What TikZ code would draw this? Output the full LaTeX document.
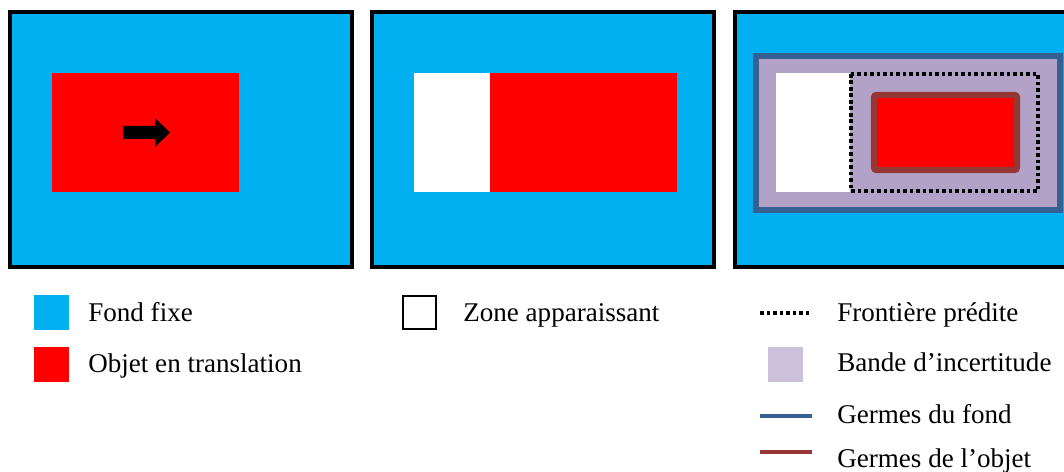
\documentclass[tikz,border=0pt]{standalone}
\usepackage{fontspec}
\setmainfont{Liberation Serif}
\usetikzlibrary{positioning}
\definecolor{fond}{HTML}{00B0F0}
\definecolor{objet}{HTML}{FF0000}
\definecolor{bande}{HTML}{B3A2C7}
\definecolor{bandeleg}{HTML}{CCC1DA}
\definecolor{germfond}{HTML}{376092}
\definecolor{germobj}{HTML}{953735}
\tikzset{
  cadre/.style={draw=black, line width=2pt, fill=fond},
  swatch/.style={minimum size=0.7cm, inner sep=0pt, outer sep=0pt},
  lgd/.style={font=\fontsize{15.4}{18}\selectfont, anchor=base west, inner sep=0pt},
  frontiere/.style={draw=black, line width=2pt, dash pattern=on 2pt off 1.7pt},
  gfond/.style={draw=germfond, line width=3.4pt},
  gobj/.style={draw=germobj, line width=3.6pt, rounded corners=1.5pt},
}

\begin{document}
\begin{tikzpicture}[x=0.02cm, y=-0.02cm]
\useasboundingbox (0,0) rectangle (1064,472);

% panel 1: object moving right
\draw[cadre] (10,12) rectangle (352,267);
\fill[objet] (52,73) rectangle (239,192);
\fill[black] (123,126) -- (155,126) -- (155,118) -- (170,132.5) -- (155,147) -- (155,139) -- (123,139) -- cycle;

% panel 2: appearing zone
\draw[cadre] (372,12) rectangle (714,267);
\fill[white] (414,73) rectangle (490,192);
\fill[objet] (490,73) rectangle (677,192);

% panel 3: predicted frontier and seeds
\draw[cadre] (735,12) rectangle (1070,267);
\filldraw[gfond, fill=bande] (756,56) rectangle (1060,210);
\fill[white] (776,73) rectangle (850,192);
\filldraw[gobj, fill=objet] (874,95) rectangle (1017,170);
\draw[frontiere] (851,74) rectangle (1038,191);

% legend
\node[swatch, fill=fond] (sf) at (51.5,312.5) {};
\node[lgd] (tf) at (88,322) {Fond fixe};
\node[swatch, fill=objet] (so) at (51.5,364.5) {};
\node[lgd] (to) at (88,373) {Objet en translation};
\node[swatch, draw=black, line width=1.2pt, minimum size=0.66cm] (sz) at (419.5,312.5) {};
\node[lgd] (tz) at (463,322) {Zone apparaissant};

\coordinate (fa) at (760,313);
\coordinate (fb) at (812,313);
\draw[frontiere] (fa) -- (fb);
\node[lgd] (tfr) at (837,322) {Frontière prédite};
\node[swatch, fill=bandeleg] (sb) at (785.5,364.5) {};
\node[lgd] (tb) at (837,372) {Bande d’incertitude};
\coordinate (ga) at (760,416);
\coordinate (gb) at (812,416);
\draw[germfond, line width=2.8pt] (ga) -- (gb);
\node[lgd] (tg) at (837,423) {Germes du fond};
\coordinate (oa) at (760,452);
\coordinate (ob) at (812,452);
\draw[germobj, line width=2.8pt] (oa) -- (ob);
\node[lgd] (tgo) at (837,467) {Germes de l’objet};
\end{tikzpicture}
\end{document}
